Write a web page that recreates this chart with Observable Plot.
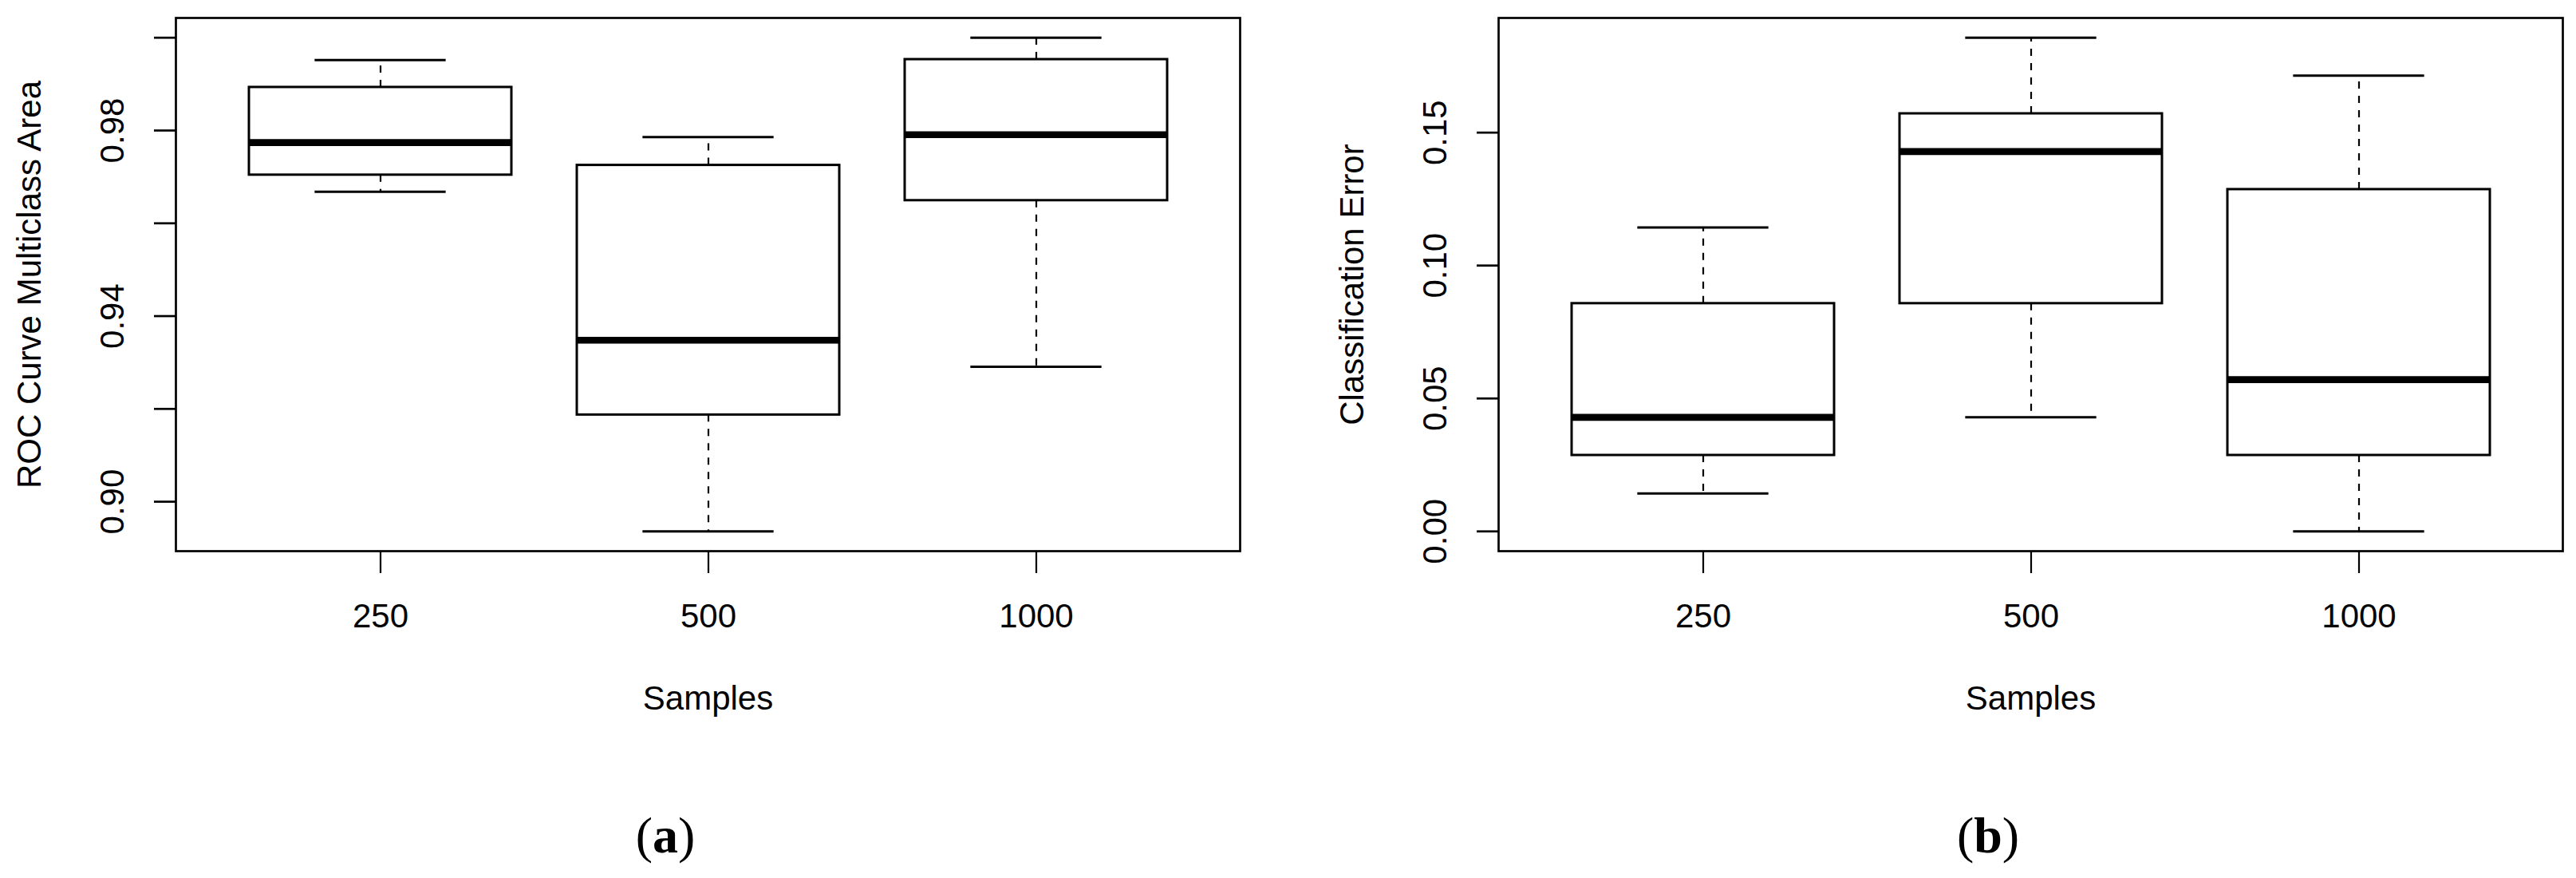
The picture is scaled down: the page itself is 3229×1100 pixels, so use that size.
<!DOCTYPE html>
<html><head><meta charset="utf-8">
<script src="https://cdn.jsdelivr.net/npm/d3@7"></script>
<script src="https://cdn.jsdelivr.net/npm/@observablehq/plot@0.6"></script>
<style>
html,body{margin:0;padding:0;background:#fff;}
#wrap{position:relative;width:3229px;height:1100px;overflow:hidden;background:#fff;font-family:"Liberation Sans",Arial,sans-serif;}
.panel{position:absolute;top:0;}
.cap{position:absolute;font-family:"Liberation Serif","DejaVu Serif",serif;font-weight:normal;font-size:64px;transform:translate(-50%,-50%);line-height:1;color:#000;white-space:nowrap;}
.cap b{font-weight:bold;}
</style></head><body><div id="wrap"></div>
<script>
// Categories
const samples = ["250", "500", "1000"];

// Panel (a): ROC Curve Multiclass Area
const rocLower  = [0.9668, 0.8936, 0.9291];
const rocQ1     = [0.9704, 0.9187, 0.9649];
const rocMedian = [0.9774, 0.9348, 0.9791];
const rocQ3     = [0.9893, 0.9725, 0.9953];
const rocUpper  = [0.9952, 0.9786, 1.0000];
const rocTicks = [0.90, 0.92, 0.94, 0.96, 0.98, 1.00];
const rocTickLabels = ["0.90", "0.94", "0.98"];

// Panel (b): Classification Error
const errLower  = [0.0143, 0.0429, 0.0000];
const errQ1     = [0.0286, 0.0857, 0.0286];
const errMedian = [0.0429, 0.1429, 0.0571];
const errQ3     = [0.0857, 0.1571, 0.1286];
const errUpper  = [0.1143, 0.1857, 0.1714];
const errTicks = [0.00, 0.05, 0.10, 0.15];
const errTickLabels = ["0.00", "0.05", "0.10", "0.15"];

const captionLetters = ["a", "b"];

const FONT = "'Liberation Sans', Arial, Helvetica, sans-serif";

function panel({lower, q1, median, q3, upper, ticks, tickLabels, yLabel, left, width, marginLeft, marginRight}) {
  const rows = samples.map((s, i) => ({s, lo: lower[i], q1: q1[i], med: median[i], q3: q3[i], hi: upper[i]}));
  const mn = d3.min(lower), mx = d3.max(upper), pad = (mx - mn) * 0.04;
  const H = 920, mt = 22, mb = H - 690;
  const bw = (width - marginLeft - marginRight) / 3.24 * 0.8;
  const svg = Plot.plot({
    width, height: H, marginLeft, marginRight, marginTop: mt, marginBottom: mb,
    style: {fontFamily: FONT, fontSize: "42px", color: "black", background: "white", overflow: "visible"},
    x: {type: "band", domain: samples, paddingInner: 0.2, paddingOuter: 0.22, label: null},
    y: {domain: [mn - pad, mx + pad], label: null},
    marks: [
      Plot.axisX({tickSize: 28, tickPadding: 38, strokeWidth: 2.2, fontSize: 42, label: null}),
      Plot.axisY(ticks, {tickSize: 27, strokeWidth: 2.7, fill: "none", label: null}),
      Plot.text(tickLabels, {y: d => +d, text: d => d, frameAnchor: "left", dx: -79, rotate: -90,
        textAnchor: "middle", lineAnchor: "middle", fontSize: 42, fill: "black"}),
      Plot.text([yLabel], {frameAnchor: "left", dx: -183, rotate: -90, textAnchor: "middle",
        lineAnchor: "middle", fontSize: 42, fill: "black"}),
      Plot.text(["Samples"], {frameAnchor: "bottom", dy: 185, textAnchor: "middle",
        lineAnchor: "middle", fontSize: 42, fill: "black"}),
      Plot.ruleX(rows, {x: "s", y1: "q3", y2: "hi", stroke: "black", strokeWidth: 2.2, strokeDasharray: "9,9"}),
      Plot.ruleX(rows, {x: "s", y1: "q1", y2: "lo", stroke: "black", strokeWidth: 2.2, strokeDasharray: "9,9"}),
      Plot.tickY(rows, {x: "s", y: "hi", stroke: "black", strokeWidth: 3, insetLeft: bw / 4, insetRight: bw / 4}),
      Plot.tickY(rows, {x: "s", y: "lo", stroke: "black", strokeWidth: 3, insetLeft: bw / 4, insetRight: bw / 4}),
      Plot.barY(rows, {x: "s", y1: "q1", y2: "q3", fill: "white", stroke: "black", strokeWidth: 3}),
      Plot.tickY(rows, {x: "s", y: "med", stroke: "black", strokeWidth: 8.7}),
      Plot.frame({stroke: "black", strokeWidth: 2.7})
    ]
  });
  const div = document.createElement("div");
  div.className = "panel";
  div.style.left = left + "px";
  div.appendChild(svg);
  document.getElementById("wrap").appendChild(div);
}

panel({lower: rocLower, q1: rocQ1, median: rocMedian, q3: rocQ3, upper: rocUpper,
  ticks: rocTicks, tickLabels: rocTickLabels, yLabel: "ROC Curve Multiclass Area",
  left: 0, width: 1614, marginLeft: 220, marginRight: 60});
panel({lower: errLower, q1: errQ1, median: errMedian, q3: errQ3, upper: errUpper,
  ticks: errTicks, tickLabels: errTickLabels, yLabel: "Classification Error",
  left: 1614, width: 1615, marginLeft: 264, marginRight: 17});

const captionX = [834, 2492];
captionLetters.forEach((letter, i) => {
  const d = document.createElement("div");
  d.className = "cap";
  d.style.left = captionX[i] + "px";
  d.style.top = "1047px";
  d.append("(");
  const b = document.createElement("b");
  b.textContent = letter;
  d.append(b);
  d.append(")");
  document.getElementById("wrap").appendChild(d);
});
</script></body></html>
